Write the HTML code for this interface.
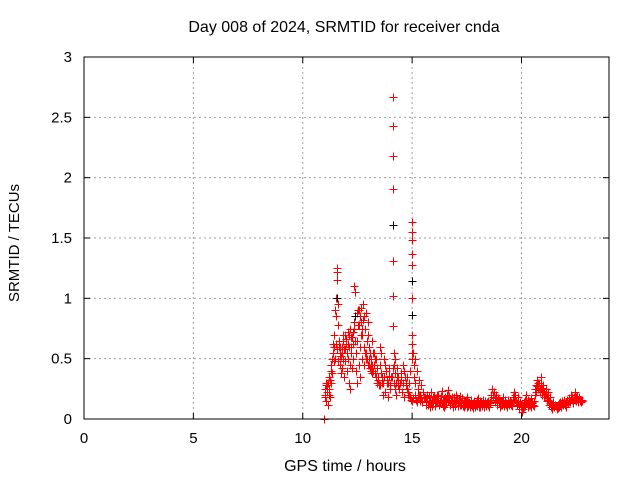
<!DOCTYPE html>
<html><head><meta charset="utf-8"><style>
body{margin:0;background:#fff}
svg{display:block;font-family:"Liberation Sans",sans-serif}
</style></head><body>
<svg id="chart" width="640" height="480">
<text x="344" y="32" font-size="16" text-anchor="middle" fill="#000">Day 008 of 2024, SRMTID for receiver cnda</text>
<text x="345" y="471" font-size="16" text-anchor="middle" fill="#000">GPS time / hours</text>
<text transform="translate(19,243) rotate(-90)" font-size="15" text-anchor="middle" fill="#000">SRMTID / TECUs</text>
<g id="grid"></g><g id="marks"></g><g id="axes"></g>
</svg>
<script>
const xTicks=[0,5,10,15,20];
const yTicks=[0,0.5,1,1.5,2,2.5,3];
const yTickLabels=["0","0.5","1","1.5","2","2.5","3"];
const spikeTimes=[10.95,11.0,11.02,11.05,11.07,11.1,11.12,11.15,11.18,11.2,11.22,11.25,11.28,
11.3,11.32,11.35,11.38,11.4,11.42,11.45,11.48,11.5,11.52,11.55,11.57,11.58,11.6,11.62,11.65,11.68,
11.7,11.72,11.75,11.78,11.8,11.82,11.85,11.88,11.9,11.92,11.95,11.98,12.0,12.02,12.05,12.08,12.1,12.12,12.15,12.18,12.2,12.22,12.25,12.28,
12.3,12.32,12.35,12.37,12.4,12.42,12.45,12.48,12.5,12.52,12.55,12.58,12.6,12.62,12.65,12.68,12.7,12.72,12.75,12.78,12.8,12.82,12.85,12.88,12.9,12.92,12.95,12.98,13.0,13.02,13.05,13.08,13.1,13.12,13.15,13.18,
13.2,13.25,13.3,13.35,13.4,13.45,13.5,13.52,13.55,13.58,13.6,13.65,13.7,13.75,13.8,13.85,13.9,13.95,14.0,14.05,
14.12,14.12,14.12,14.12,14.12,14.12,14.12,
14.15,14.18,14.2,14.22,14.25,14.28,14.3,14.35,14.4,14.45,14.5,14.55,14.6,14.65,14.7,14.75,14.8,14.85,14.9,
15.0,15.0,15.0,15.0,15.0,15.0,15.0,15.0,15.0,15.0,
15.05,15.08,15.1,15.12,15.15,15.2,15.25,15.3,15.35,15.4,15.45,15.5,15.55];
const spikeValues=[0,0.25,0.18,0.3,0.15,0.22,0.28,0.12,0.2,0.35,0.25,0.18,0.3,
0.45,0.5,0.38,0.55,0.62,0.48,0.7,0.9,1.0,0.85,1.22,1.25,1.15,0.95,0.78,0.6,0.52,
0.45,0.6,0.38,0.55,0.42,0.65,0.5,0.35,0.58,0.7,0.48,0.62,0.4,0.55,0.72,0.5,0.3,0.6,0.45,0.25,0.55,0.68,0.42,0.5,
0.62,0.75,1.1,1.05,0.85,0.55,0.4,0.3,0.65,0.9,0.78,0.45,0.6,0.35,0.8,0.92,0.5,0.7,0.95,0.6,0.85,0.45,0.75,0.55,0.88,0.65,0.5,0.8,0.7,0.45,0.6,0.55,0.4,0.5,0.65,0.45,
0.55,0.45,0.38,0.5,0.42,0.35,0.28,0.45,0.6,0.55,0.3,0.2,0.35,0.22,0.4,0.3,0.18,0.42,0.25,0.35,
2.67,2.43,2.18,1.91,1.31,1.02,0.77,
0.45,0.55,0.5,0.38,0.3,0.2,0.42,0.35,0.25,0.3,0.38,0.22,0.3,0.18,0.28,0.35,0.2,0.3,0.4,
1.63,1.55,1.48,1.37,1.28,1.0,0.7,0.62,0.55,0.5,
0.55,0.45,0.35,0.5,0.3,0.4,0.25,0.32,0.2,0.28,0.15,0.22,0.18];
const cloudStart=11.01, cloudStep=0.05;
const cloudValues=[0.2,0.28,0.22,0.3,0.25,0.32,0.4,0.55,0.6,0.5,0.62,0.58,0.48,0.65,0.55,0.52,0.6,0.7,0.58,0.66,
0.55,0.62,0.7,0.75,0.6,0.68,0.72,0.8,0.65,0.88,0.78,0.9,0.85,0.7,0.75,0.82,0.6,0.55,0.5,0.45,
0.5,0.42,0.45,0.38,0.4,0.55,0.5,0.35,0.3,0.32,0.28,0.38,0.35,0.3,0.5,0.45,0.4,0.32,0.3,0.36,
0.28,0.35,0.42,0.3,0.25,0.3,0.35,0.28,0.25,0.3,0.32,0.45,0.4,0.35,0.3,0.25,0.22,0.2,0.18,0.16,0.15,0.17,0.2,0.16,0.14,0.18,0.2,0.15,0.17,0.14];
const baseStart=15.6, baseStep=0.05;
const baseValues=[.18,.12,.2,.15,.1,.22,.16,.13,.19,.11,.17,.14,.2,.12,.16,.23,.15,.1,.18,.14,
.2,.24,.16,.12,.18,.1,.15,.13,.2,.17,.11,.14,.19,.12,.16,.1,.15,.13,.18,.11,
.14,.1,.16,.12,.09,.15,.13,.11,.17,.12,.1,.14,.12,.16,.1,.13,.11,.15,.12,.14,
.2,.25,.18,.22,.14,.2,.12,.16,.1,.14,.12,.18,.11,.15,.13,.1,.16,.12,.14,.11,
.18,.22,.2,.15,.12,.18,.08,.14,.06,.12,.1,.16,.2,.13,.1,.15,.12,.17,.14,.11,
.2,.28,.32,.25,.3,.22,.35,.2,.28,.18,.25,.15,.22,.12,.18,.1,.08,.14,.1,.12,
.08,.12,.1,.14,.11,.15,.12,.16,.13,.1,.14,.17,.15,.2,.16,.13,.18,.22,.15,.19,.14,.17,.16,.15];
const base2Start=15.625;
const base2Values=[.14,.17,.12,.19,.15,.13,.11,.18,.15,.13,.2,.16,.12,.15,.19,.13,.11,.16,.12,.17,
.15,.19,.12,.16,.14,.13,.18,.11,.15,.13,.16,.12,.14,.17,.11,.14,.12,.16,.1,.14,
.12,.15,.11,.13,.14,.1,.12,.16,.13,.1,.15,.11,.13,.12,.15,.11,.14,.12,.1,.13,
.16,.2,.22,.17,.18,.15,.17,.13,.14,.12,.15,.13,.16,.12,.11,.14,.13,.15,.12,.13,
.14,.16,.18,.13,.15,.11,.13,.1,.12,.08,.14,.11,.13,.16,.12,.14,.1,.13,.12,.15,
.25,.22,.27,.3,.24,.28,.26,.23,.22,.2,.2,.18,.16,.15,.13,.12,.11,.1,.12,.11,
.1,.09,.13,.12,.1,.13,.15,.12,.14,.16,.13,.15,.14,.17,.18,.15,.16,.18,.17,.16,.18,.15,.14,.16];
const blackTimes=[11.55,12.4,14.12,15.0,15.0];
const blackValues=[1.0,0.85,1.61,1.14,0.86];

const L=84,R=609,T=57,B=419,XMAX=24,YMAX=3;
const sx=t=>L+t/XMAX*(R-L);
const sy=v=>B-v/YMAX*(B-T);
const NS="http://www.w3.org/2000/svg";
function mk(tag,attrs,parent){const e=document.createElementNS(NS,tag);for(const k in attrs)e.setAttribute(k,attrs[k]);parent.appendChild(e);return e;}
const grid=document.getElementById('grid'),marks=document.getElementById('marks'),axes=document.getElementById('axes');
xTicks.forEach(t=>{
  const x=sx(t);
  if(t>0){const g=mk('line',{x1:x,x2:x,y1:T,y2:B,stroke:'#a0a0a0','stroke-dasharray':'2,3'},grid);
  
  }
  mk('line',{x1:x,x2:x,y1:B,y2:B-6,stroke:'#000'},axes);
  mk('line',{x1:x,x2:x,y1:T,y2:T+6,stroke:'#000'},axes);
  const lb=mk('text',{x:x,y:B+24,'font-size':15,'text-anchor':'middle'},axes);lb.textContent=t;
  
  
});
yTicks.forEach((v,i)=>{
  const y=sy(v);
  if(v>0&&v<YMAX){const g=mk('line',{x1:L,x2:R,y1:y,y2:y,stroke:'#a0a0a0','stroke-dasharray':'2,3'},grid);
  
  }
  mk('line',{x1:L,x2:L+6,y1:y,y2:y,stroke:'#000'},axes);
  mk('line',{x1:R,x2:R-6,y1:y,y2:y,stroke:'#000'},axes);
  const lb=mk('text',{x:L-12,y:y+5,'font-size':15,'text-anchor':'end'},axes);lb.textContent=yTickLabels[i];
  
  
});
const frame=mk('rect',{x:L,y:T,width:R-L,height:B-T,fill:'none',stroke:'#000'},axes);


function cross(t,v,col){
  const x=Math.round(sx(t))+0.5,y=Math.round(sy(v))+0.5;
  const p=mk('path',{d:`M${x-4},${y}H${x+4}M${x},${y-4}V${y+4}`,stroke:col,'stroke-width':1,fill:'none','shape-rendering':'crispEdges'},marks);
  
  
}
blackTimes.forEach((t,i)=>cross(t,blackValues[i],'#000'));
cloudValues.forEach((v,i)=>cross(cloudStart+i*cloudStep,v,'#ff0000'));
spikeTimes.forEach((t,i)=>cross(t,spikeValues[i],'#ff0000'));
baseValues.forEach((v,i)=>cross(baseStart+i*baseStep,v,'#ff0000'));
base2Values.forEach((v,i)=>cross(base2Start+i*baseStep,v,'#ff0000'));
blackTimes.forEach((t,i)=>cross(t,blackValues[i],'#000'));
</script>
</body></html>
